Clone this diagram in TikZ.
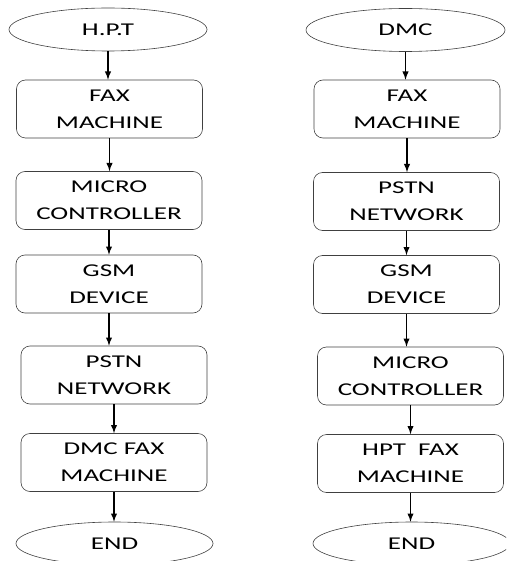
\documentclass[tikz,border=0pt]{standalone}
\usepackage{fontspec}
\setmainfont{Carlito}[FakeStretch=1.5]
\usetikzlibrary{shapes.geometric}

\tikzset{
  blk/.style={draw=black!75, line width=0.6pt, rounded corners=9pt, minimum width=186pt, minimum height=58pt, inner sep=0pt, align=center, font=\fontsize{18}{27}\selectfont},
  term/.style={draw=black!75, line width=0.6pt, ellipse, minimum width=198pt, minimum height=43pt, inner sep=0pt, font=\fontsize{18}{27}\selectfont},
  flow/.style={->, >=latex, line width=1.8pt}
}

\begin{document}
\begin{tikzpicture}[x=1pt,y=-1pt]
\useasboundingbox (0,0) rectangle (506,561);
\clip (0,0) rectangle (506,561);
%\draw[step=10,gray,very thin] (0,0) grid (506,561); %background grid
% left column
\node[term] (hpt) at (108,29.5) {H.P.T};
\node[blk] (fax1) at (109.5,109) {FAX\\MACHINE};
\node[blk] (mc1) at (109,200.5) {MICRO\\CONTROLLER};
\node[blk] (gsm1) at (109,284) {GSM\\DEVICE};
\node[blk] (pstn1) at (114,375) {PSTN\\NETWORK};
\node[blk] (dmcfax) at (114,462.5) {DMC FAX\\MACHINE};
\node[term,minimum width=197pt] (end1) at (114.5,543.5) {END};
\draw[flow] (hpt.south) -- (hpt.south |- fax1.north);
\draw[flow] (fax1.south) -- (fax1.south |- mc1.north);
\draw[flow] (mc1.south) -- (mc1.south |- gsm1.north);
\draw[flow] (gsm1.south) -- (gsm1.south |- pstn1.north);
\draw[flow] (pstn1.south) -- (pstn1.south |- dmcfax.north);
\draw[flow] (dmcfax.south) -- (dmcfax.south |- end1.north);
% right column
\node[term,minimum width=199pt] (dmc) at (405.5,30) {DMC};
\node[blk] (fax2) at (407,109) {FAX\\MACHINE};
\node[blk] (pstn2) at (406.5,201.5) {PSTN\\NETWORK};
\node[blk] (gsm2) at (406.5,284.5) {GSM\\DEVICE};
\node[blk] (mc2) at (410.5,376) {MICRO\\CONTROLLER};
\node[blk] (hptfax) at (410.5,463.5) {HPT~~FAX\\MACHINE};
\node[term,minimum width=197pt] (end2) at (411.5,543.5) {END};
\draw[flow] (dmc.south) -- (dmc.south |- fax2.north);
\draw[flow] (fax2.south) -- (fax2.south |- pstn2.north);
\draw[flow] (pstn2.south) -- (pstn2.south |- gsm2.north);
\draw[flow] (gsm2.south) -- (gsm2.south |- mc2.north);
\draw[flow] (mc2.south) -- (mc2.south |- hptfax.north);
\draw[flow] (hptfax.south) -- (hptfax.south |- end2.north);
\end{tikzpicture}
\end{document}
